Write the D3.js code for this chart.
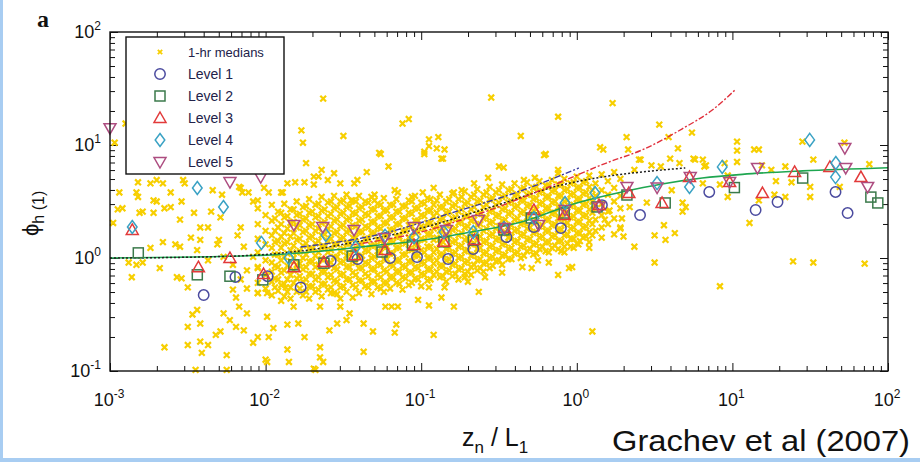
<!DOCTYPE html>
<html>
<head>
<meta charset="utf-8">
<script src="https://cdn.jsdelivr.net/npm/d3@7"></script>
<style>
  body { margin: 0; background: #fff; }
  svg { display: block; font-family: "Liberation Sans", Arial, sans-serif; }
</style>
</head>
<body>
<script>
// ---- values ----
var xTicks = [1e-3, 1e-2, 1e-1, 1, 1e1, 1e2];
var xExp = ["-3", "-2", "-1", "0", "1", "2"];
var yTicks = [1e-1, 1, 1e1, 1e2];
var yExp = ["-1", "0", "1", "2"];

var seriesNames = ["1-hr medians", "Level 1", "Level 2", "Level 3", "Level 4", "Level 5"];

// level medians, [z/L, phi]
var level1 = [[0.004,0.47],[0.0064,0.68],[0.0103,0.69],[0.0168,0.55],[0.0262,0.94],[0.039,0.98],[0.063,1.0],[0.094,1.02],[0.149,0.98],[0.216,1.2],[0.353,1.53],[0.53,1.88],[0.79,1.84],[1.45,2.94],[2.55,2.4],[7.1,3.84],[14.1,2.66],[19.5,3.13],[46,3.84],[55,2.5]];
var level2 = [[0.00152,1.11],[0.00364,0.71],[0.0059,0.69],[0.0096,0.64],[0.0152,0.87],[0.0237,0.9],[0.036,1.04],[0.056,1.13],[0.088,1.3],[0.14,1.39],[0.216,1.44],[0.34,1.77],[0.51,2.26],[0.83,2.5],[1.35,2.83],[2.1,3.61],[3.7,3.07],[10.3,4.2],[28.3,5.1],[77.6,3.46],[86,3.07]];
var level3 = [[0.00139,1.77],[0.0037,0.83],[0.0059,1.0],[0.0097,0.72],[0.0152,0.83],[0.0237,0.92],[0.0375,1.06],[0.0586,1.18],[0.09,1.3],[0.14,1.39],[0.22,1.44],[0.343,1.84],[0.53,2.66],[0.83,2.4],[1.39,2.94],[2.16,3.76],[3.53,3.07],[5.3,5.2],[9.6,4.7],[15.6,3.76],[25.1,5.77],[42.3,6.4],[67,5.2]];
var level4 = [[0.00139,1.88],[0.00364,4.16],[0.00536,2.83],[0.0094,1.36],[0.0141,1.0],[0.0244,1.6],[0.038,1.25],[0.0586,1.57],[0.09,1.53],[0.14,1.7],[0.216,1.7],[0.34,1.84],[0.53,2.26],[0.84,3.07],[1.31,3.76],[3.28,4.6],[5.3,4.25],[8.6,6.4],[31.4,11.1],[46.2,6.93],[46,5.2]];
var level5 = [[0.001,14.1],[0.0059,4.7],[0.0093,5.2],[0.0152,1.96],[0.0233,1.88],[0.037,1.77],[0.058,1.5],[0.09,1.88],[0.145,1.77],[0.233,2.17],[0.343,1.84],[0.569,1.96],[0.84,2.66],[1.39,2.83],[2.1,4.25],[3.28,4.2],[5.36,5.2],[9.6,4.7],[14.5,6.26],[52.8,9.4],[53.5,6.26],[74,4.25]];

// fitted curves
var greenFit = [[0.001,1.0],[0.01,1.06],[0.0227,1.15],[0.0475,1.28],[0.1,1.43],[0.21,1.7],[0.44,2.08],[1.0,3.07],[1.95,3.84],[3.53,4.52],[6.4,5.1],[11.6,5.5],[28.3,5.9],[100,6.3]];
var blackFit = [[0.001,1.0],[0.0038,1.02],[0.0108,1.085],[0.0227,1.22],[0.0353,1.36],[0.1,1.84],[0.283,2.83],[0.8,4.43],[1.45,5.2],[2.62,5.77],[4.98,6.26]];
var navyFit = [[0.0168,1.25],[0.0552,1.63],[0.156,2.5],[0.49,4.16],[1.03,6.26]];
var redFit = [[0.0353,1.3],[0.1,1.7],[0.244,2.5],[0.66,4.25],[1.61,7.07],[2.62,9.03],[4.76,13.9],[7.43,20.4],[10.4,30.7]];

// 1-hr medians, scattered ones as [log10 z/L, log10 phi]
var mediansLog = [
[-2.97,1.02],[-2.90,1.19],[-2.98,0.31],[-2.95,0.43],[-2.94,0.58],[-2.92,0.44],[-2.81,0.40],[-2.82,0.67],[-2.74,0.66],[-2.70,0.69],[-2.66,0.66],[-2.83,0.58],[-2.72,0.51],[-2.61,0.58],[-2.65,0.44],[-2.53,0.69],[-2.55,0.34],[-2.48,0.18],[-2.66,0.14],[-2.58,0.12],[-2.74,0.09],[-2.83,-0.06],[-2.79,-0.04],[-2.88,-0.04],[-2.86,-0.17],
[-2.34,0.60],[-2.16,0.62],[-2.11,0.58],[-2.01,0.62],[-1.86,0.66],[-1.81,0.67],[-1.75,0.67],[-1.69,0.65],[-1.77,1.13],[-1.76,1.02],[-1.74,0.84],[-1.63,1.41],[-1.50,1.08],[-1.26,0.92],[-1.12,1.19],[-1.08,1.23],[-0.95,1.05],[-0.89,1.07],[-0.95,0.99],[-0.90,0.97],[-0.85,0.96],[-0.98,0.92],[-0.87,0.88],
[-0.55,1.42],[-0.36,1.08],[-0.12,1.25],[-0.20,0.92],[0.23,1.37],[0.15,0.98],[0.17,0.96],[0.32,1.07],[0.33,0.96],[0.53,1.18],[0.59,1.07],[0.65,0.97],[0.40,0.87],[0.60,0.88],[0.74,1.11],[0.75,0.88],[0.81,0.87],[0.82,0.81],[0.95,0.84],[1.03,1.03],[1.03,0.95],[1.03,0.85],[1.14,0.96],[1.17,0.96],[1.19,0.82],[1.25,0.78],[1.34,0.81],[1.45,1.03],[1.52,0.87],[1.72,1.02],[1.88,0.83],[1.28,0.68],[1.38,0.67],[1.50,0.63],[1.50,0.54],[1.69,0.63],[1.34,0.54],[1.27,0.56],[1.17,0.51],[1.11,0.31],[0.97,0.54],[0.92,0.65],[0.56,0.29],[0.50,0.20],[0.63,0.22],[0.68,0.41],[0.70,0.45],[0.50,-0.04],[0.92,-0.25],[1.39,-0.03],[1.52,-0.04],[1.85,-0.05],[0.45,0.49],[0.61,0.60],[0.81,0.66],[0.97,0.73],[0.41,0.87],[0.66,0.84],[0.48,0.82],[0.54,0.81],[0.76,0.87],[0.83,0.82],[0.68,0.49],[0.57,0.16],[0.37,0.10],[0.30,0.19],[0.28,0.26],[0.29,0.35],[0.34,0.45],[0.21,0.42],[0.18,0.34],[0.01,0.12],[0.08,0.09],[-0.08,0.05],[-0.05,-0.09],[0.10,-0.65],[0.37,0.78],
[-1.64,0.78],[-1.60,0.69],[-1.69,0.72],[-1.56,0.75],[-1.52,0.66],[-1.35,0.76],[-1.41,0.69],[-1.27,0.93],[-1.21,0.81],[-1.17,0.60],[-1.30,0.51],[-1.45,0.51],
[-1.89,0.58],[-1.98,0.58],[-2.08,0.50],[-2.15,0.58],[-2.17,0.63],[-2.28,0.56],[-2.52,0.66],[-2.70,0.50],[-2.72,0.40],[-2.79,0.41],[-2.82,0.54],[-2.54,0.50],[-2.46,0.40],[-2.42,0.27],[-2.61,0.45],[-2.35,0.41],[-2.29,0.36],[-2.37,0.27],[-2.42,0.16],[-2.30,0.16],[-2.55,0.10],[-2.68,-0.09],[-2.57,-0.17],[-2.50,-0.26],[-2.54,-0.18],[-2.44,0.07],[-2.37,-0.02],[-2.31,0.12],[-2.27,0.01],[-2.18,0.20],[-2.16,0.27],[-2.14,0.10],[-2.12,-0.11],[-2.21,-0.28],[-2.19,-0.35],[-2.17,-0.43],[-2.12,-0.49],[-2.27,-0.49],[-2.23,-0.55],[-2.19,-0.61],[-2.29,-0.65],[-2.32,-0.68],[-2.37,-0.77],[-2.42,-0.74],[-2.50,-0.77],[-2.65,-0.79],[-2.44,-0.46],[-2.47,-0.50],[-2.50,-0.61],[-2.42,-0.58],[-2.41,-0.84],[-2.25,-0.86],[-2.45,-0.99],[-2.25,-0.99],[-2.00,-0.90],[-2.08,-0.75],[-2.14,-0.64],[-2.05,-0.70],[-1.99,-0.52],[-1.95,-0.62],[-1.98,-0.70],[-1.86,-0.81],[-1.86,-0.59],[-1.79,-0.58],[-1.75,-0.70],[-1.65,-0.79],[-1.65,-0.88],[-1.69,-0.98],[-1.59,-0.64],[-1.54,-0.58],[-1.48,-0.55],[-1.37,-0.58],[-1.31,-0.65],[-1.37,-0.83],[-1.46,-0.49],[-1.19,-0.43],[-1.16,-0.59],[-1.17,-0.66],[-1.52,-0.43],[-1.58,-0.31],[-1.65,-0.43],[-1.82,-0.43],[-1.90,-0.38],[-1.87,-0.26],[-1.99,-0.31],[-2.05,-0.31],[-2.12,-0.27],[-2.16,-0.19],[-2.21,-0.06],[-2.08,0.01],[-2.05,-0.08],
[-1.99,-0.92],[-1.85,-0.92],[-1.68,-0.99],[-1.63,-0.92],
[-1.15,-0.43],[-1.23,-0.43],[-1.02,-0.37],[-0.95,-0.42],[-0.92,-0.68],[-0.95,-0.26],[-0.87,-0.35],[-0.79,-0.43],[-0.72,-0.17],[-0.63,-0.30],[-0.35,-0.08],[-0.12,-0.15],[-0.25,-0.02],[-0.29,-0.09],[-0.18,-0.04],[-0.48,-0.13],[-0.59,-0.17],[-0.70,-0.21],[-0.85,-0.26],[-0.03,-0.08],
[-1.66,0.72],[-1.43,0.66],[-1.90,0.58],[-2.05,0.51],[-1.15,0.58],[-1.30,0.56],[-0.50,0.81],[-0.66,0.66],[-0.57,0.71],[-0.79,0.58],[-0.74,0.60],[-0.92,0.62],[-0.99,0.58],[-1.06,0.54],[-0.34,0.69],[-0.27,0.71],[-0.12,0.78],[-0.98,0.94],[-0.86,0.88],[-0.47,0.80],[-0.21,0.91],[-0.12,0.75]
];

// dense part of the 1-hr median cloud: log10 z/L column, log10 phi values in it
var cloudColumns = [
[-2.05,[.44,.30,.17,.05,-.09,-.22,-.31]],
[-2.00,[.38,.24,.12,-.02,-.15,-.27]],
[-1.96,[.47,.33,.20,.09,-.04,-.12,-.21,-.33]],
[-1.92,[.41,.27,.15,.03,-.08,-.19,-.29]],
[-1.88,[.48,.36,.22,.13,.01,-.11,-.23,-.34]],
[-1.84,[.43,.31,.19,.07,-.03,-.15,-.26,-.36]],
[-1.80,[.50,.38,.27,.16,.05,-.06,-.18,-.30]],
[-1.76,[.45,.34,.23,.11,.00,-.10,-.21,-.33]],
[-1.72,[.52,.40,.29,.18,.08,-.03,-.14,-.25,-.36]],
[-1.68,[.47,.36,.24,.13,.02,-.08,-.19,-.30]],
[-1.64,[.54,.42,.31,.20,.10,-.01,-.12,-.23,-.34]],
[-1.60,[.49,.37,.26,.15,.05,-.06,-.17,-.28]],
[-1.56,[.55,.44,.33,.22,.12,.01,-.09,-.20,-.31]],
[-1.52,[.50,.39,.28,.17,.06,-.04,-.15,-.26,-.36]],
[-1.48,[.56,.45,.34,.23,.13,.02,-.08,-.19,-.30]],
[-1.44,[.51,.40,.29,.18,.08,-.03,-.13,-.24,-.35]],
[-1.40,[.55,.44,.33,.23,.12,.01,-.09,-.20,-.31]],
[-1.36,[.50,.39,.28,.17,.07,-.04,-.14,-.25]],
[-1.32,[.54,.43,.32,.22,.11,.00,-.10,-.21,-.32]],
[-1.28,[.48,.37,.27,.16,.06,-.05,-.15,-.26]],
[-1.24,[.53,.42,.31,.20,.10,-.01,-.11,-.22,-.30]],
[-1.20,[.47,.36,.25,.15,.04,-.06,-.17,-.27]],
[-1.16,[.52,.41,.30,.19,.09,-.02,-.12,-.22]],
[-1.12,[.46,.35,.24,.14,.03,-.07,-.17,-.28]],
[-1.08,[.51,.40,.29,.18,.08,-.03,-.13,-.24]],
[-1.04,[.55,.44,.33,.23,.12,.02,-.08,-.18]],
[-1.00,[.49,.38,.28,.17,.07,-.04,-.14,-.25]],
[-0.96,[.53,.42,.31,.21,.10,.00,-.10,-.20]],
[-0.92,[.47,.37,.26,.16,.05,-.05,-.15]],
[-0.88,[.56,.45,.34,.24,.13,.03,-.07,-.17]],
[-0.84,[.50,.40,.29,.19,.08,-.02,-.12,-.21]],
[-0.80,[.57,.46,.35,.25,.14,.04,-.06,-.16]],
[-0.76,[.52,.41,.31,.20,.10,.00,-.10,-.19]],
[-0.72,[.59,.48,.37,.27,.16,.06,-.04,-.14]],
[-0.68,[.54,.43,.33,.22,.12,.02,-.08,-.15]],
[-0.64,[.61,.50,.39,.29,.18,.08,-.02,-.11]],
[-0.60,[.56,.45,.35,.24,.14,.04,-.05,-.12]],
[-0.56,[.63,.52,.41,.31,.20,.10,.00,-.09]],
[-0.52,[.58,.47,.37,.26,.16,.06,-.03]],
[-0.48,[.65,.54,.43,.33,.22,.12,.02,-.06]],
[-0.44,[.60,.49,.39,.28,.18,.08,-.01]],
[-0.40,[.66,.55,.45,.34,.24,.14,.04]],
[-0.36,[.61,.51,.40,.30,.20,.10,.00]],
[-0.32,[.67,.56,.46,.36,.26,.16,.06]],
[-0.28,[.62,.52,.42,.32,.22,.12,.03]],
[-0.24,[.68,.58,.48,.38,.28,.18,.08]],
[-0.20,[.64,.54,.44,.34,.24,.14,.06]],
[-0.16,[.69,.59,.49,.39,.29,.19,.09]],
[-0.12,[.65,.55,.45,.35,.25,.15,.08]],
[-0.08,[.70,.60,.50,.40,.30,.20,.10]],
[-0.04,[.66,.56,.46,.36,.26,.17,.10]],
[0.00,[.72,.62,.52,.42,.32,.22,.13]],
[0.04,[.67,.57,.47,.37,.27,.18]],
[0.08,[.73,.63,.53,.43,.33,.23,.14]],
[0.12,[.66,.55,.44,.34,.24]],
[0.16,[.74,.60,.48,.38,.27,.18]],
[0.20,[.68,.56,.41,.30]],
[0.24,[.76,.62,.50,.35,.21]],
[0.28,[.70,.55,.44,.27]]
];

// the solid centre of the cloud, between the columns above
var cloudCore = [
[-1.94,[.35,.24,.14,.03,-.07,-.18,-.26]],
[-1.90,[.40,.30,.19,.09,-.02,-.13,-.24]],
[-1.86,[.37,.26,.14,.04,-.07,-.19,-.30]],
[-1.82,[.43,.32,.22,.11,.00,-.11,-.22]],
[-1.78,[.39,.29,.17,.06,-.05,-.16,-.27]],
[-1.74,[.46,.35,.24,.13,.03,-.08,-.19,-.30]],
[-1.70,[.41,.30,.19,.08,-.03,-.14,-.25]],
[-1.66,[.48,.37,.26,.15,.05,-.06,-.17,-.28]],
[-1.62,[.43,.32,.21,.10,-.01,-.12,-.23]],
[-1.58,[.50,.39,.28,.17,.07,-.04,-.15,-.26]],
[-1.54,[.45,.34,.23,.12,.01,-.10,-.21,-.32]],
[-1.50,[.51,.40,.29,.18,.08,-.03,-.14,-.25]],
[-1.46,[.46,.35,.24,.13,.03,-.08,-.19]],
[-1.42,[.50,.39,.28,.18,.07,-.04,-.15,-.26]],
[-1.38,[.45,.34,.23,.12,.02,-.09,-.20]],
[-1.34,[.49,.38,.27,.17,.06,-.05,-.16,-.26]],
[-1.30,[.43,.32,.22,.11,.01,-.10,-.21]],
[-1.26,[.47,.37,.26,.15,.05,-.06,-.17,-.27]],
[-1.22,[.42,.31,.20,.10,-.01,-.12,-.22]],
[-1.18,[.47,.36,.25,.14,.04,-.07,-.17]],
[-1.14,[.41,.30,.19,.09,-.02,-.12,-.23]],
[-1.10,[.46,.35,.24,.13,.03,-.08,-.18]],
[-1.06,[.50,.39,.28,.18,.07,-.03,-.13,-.22]],
[-1.02,[.44,.33,.23,.12,.02,-.09,-.19]],
[-0.98,[.48,.37,.26,.16,.05,-.05,-.15]],
[-0.94,[.52,.42,.31,.21,.10,.00,-.10,-.19]],
[-0.90,[.51,.40,.29,.18,.08,-.02,-.12]],
[-0.86,[.45,.35,.24,.14,.03,-.07,-.16]],
[-0.82,[.52,.41,.30,.20,.09,-.01,-.11]],
[-0.78,[.47,.36,.26,.15,.05,-.05,-.14]],
[-0.74,[.54,.43,.32,.22,.11,.01,-.09]],
[-0.70,[.49,.38,.28,.17,.07,-.03,-.12]],
[-0.66,[.56,.45,.34,.24,.13,.03,-.06]],
[-0.62,[.51,.40,.30,.19,.09,-.01,-.09]],
[-0.58,[.58,.47,.36,.26,.15,.05,-.04]],
[-0.54,[.53,.42,.32,.21,.11,.01,-.07]],
[-0.50,[.60,.49,.38,.28,.17,.07,-.02]],
[-0.46,[.55,.44,.34,.23,.13,.03]],
[-0.42,[.61,.50,.40,.29,.19,.09,-.01]],
[-0.38,[.56,.46,.35,.25,.15,.05]],
[-0.34,[.62,.51,.41,.31,.21,.11,.02]],
[-0.30,[.57,.47,.37,.27,.17,.08]],
[-0.26,[.63,.53,.43,.33,.23,.13,.04]],
[-0.22,[.59,.49,.39,.29,.19,.10]],
[-0.18,[.64,.54,.44,.34,.24,.14,.05]],
[-0.14,[.60,.50,.40,.30,.20,.11]],
[-0.10,[.65,.55,.45,.35,.25,.15,.06]],
[-0.06,[.61,.51,.41,.31,.21,.13]],
[-0.02,[.67,.57,.47,.37,.27,.17,.09]],
[0.02,[.62,.52,.42,.32,.22,.15]],
[0.06,[.68,.58,.48,.38,.28,.19]],
[0.10,[.60,.50,.40,.30,.20]]
];

// ---- layout ----
var W = 920, H = 462;
var plotLeft = 110, plotRight = 888, plotTop = 32, plotBottom = 371;

var colors = {
  median: "#f7cf00",
  l1: "#4b4b9f",
  l2: "#3b7a4b",
  l3: "#e23a3a",
  l4: "#3aa2c4",
  l5: "#ad4d80"
};

var svg = d3.select("body").append("svg")
  .attr("width", W)
  .attr("height", H);

svg.append("rect").attr("width", W).attr("height", H).attr("fill", "#fff");
// light blue slide frame on the left and bottom edges
svg.append("rect").attr("x", 0).attr("y", 0).attr("width", 3).attr("height", H).attr("fill", "#a8cdf2");
svg.append("rect").attr("x", 0).attr("y", H - 4).attr("width", W).attr("height", 4).attr("fill", "#a8cdf2");

var x = d3.scaleLog().domain([1e-3, 1e2]).range([plotLeft, plotRight]);
var y = d3.scaleLog().domain([1e-1, 1e2]).range([plotBottom, plotTop]);

// minor ticks 2..9 in every decade
var minorX = [], minorY = [];
xTicks.slice(0, -1).forEach(function(d) { for (var k = 2; k < 10; k++) minorX.push(k * d); });
yTicks.slice(0, -1).forEach(function(d) { for (var k = 2; k < 10; k++) minorY.push(k * d); });

function tickSet(axisFn, scale, values, len, transform) {
  svg.append("g")
    .attr("transform", transform)
    .call(axisFn(scale).tickValues(values).tickSize(-len).tickFormat(""))
    .call(function(g) { g.select(".domain").remove(); })
    .selectAll("line").attr("stroke", "#111").attr("stroke-width", 1);
}
tickSet(d3.axisBottom, x, xTicks, 8, "translate(0," + plotBottom + ")");
tickSet(d3.axisBottom, x, minorX, 5, "translate(0," + plotBottom + ")");
tickSet(d3.axisTop, x, xTicks, 8, "translate(0," + plotTop + ")");
tickSet(d3.axisTop, x, minorX, 5, "translate(0," + plotTop + ")");
tickSet(d3.axisLeft, y, yTicks, 8, "translate(" + plotLeft + ",0)");
tickSet(d3.axisLeft, y, minorY, 5, "translate(" + plotLeft + ",0)");
tickSet(d3.axisRight, y, yTicks, 8, "translate(" + plotRight + ",0)");
tickSet(d3.axisRight, y, minorY, 5, "translate(" + plotRight + ",0)");

// tick labels 10^n
xTicks.forEach(function(v, i) {
  var t = svg.append("text")
    .attr("x", x(v) - 1)
    .attr("y", 406)
    .attr("text-anchor", "middle")
    .attr("font-size", 18)
    .attr("fill", "#111");
  t.append("tspan").text("10");
  t.append("tspan").attr("dy", -8).attr("font-size", 12).text(xExp[i]);
});
yTicks.forEach(function(v, i) {
  var t = svg.append("text")
    .attr("x", 101)
    .attr("y", y(v) + 6)
    .attr("text-anchor", "end")
    .attr("font-size", 18)
    .attr("fill", "#111");
  t.append("tspan").text("10");
  t.append("tspan").attr("dy", -8).attr("font-size", 12).text(yExp[i]);
});

// 1-hr medians
var medians = mediansLog.slice();
cloudColumns.concat(cloudCore).forEach(function(c) {
  c[1].forEach(function(v) { medians.push([c[0], v]); });
});

var crossPath = "M-2.9,-2.9L2.9,2.9M-2.9,2.9L2.9,-2.9";
svg.append("g").selectAll("path")
  .data(medians)
  .enter()
  .append("path")
  .attr("transform", function(d) {
    return "translate(" + x(Math.pow(10, d[0])) + "," + y(Math.pow(10, d[1])) + ")";
  })
  .attr("d", crossPath)
  .attr("stroke", colors.median)
  .attr("stroke-width", 2.2)
  .attr("fill", "none");

// fitted curves
var line = d3.line()
  .x(function(d) { return x(d[0]); })
  .y(function(d) { return y(d[1]); })
  .curve(d3.curveMonotoneX);

svg.append("path").datum(greenFit).attr("d", line)
  .attr("fill", "none").attr("stroke", "#1ea650").attr("stroke-width", 1.6);
svg.append("path").datum(blackFit).attr("d", line)
  .attr("fill", "none").attr("stroke", "#222").attr("stroke-width", 1.5).attr("stroke-dasharray", "2,2");
svg.append("path").datum(navyFit).attr("d", line)
  .attr("fill", "none").attr("stroke", "#3c3ca0").attr("stroke-width", 1.4).attr("stroke-dasharray", "6,2,2,2");
svg.append("path").datum(redFit).attr("d", line)
  .attr("fill", "none").attr("stroke", "#e0303c").attr("stroke-width", 1.4).attr("stroke-dasharray", "6,2,2,2");

// marker shapes
var shapes = {
  circle: function(g) { g.append("circle").attr("r", 5.2); },
  square: function(g) { g.append("rect").attr("x", -5).attr("y", -5).attr("width", 10).attr("height", 10); },
  up: function(g) { g.append("path").attr("d", "M0,-6L6,4.5L-6,4.5Z"); },
  diamond: function(g) { g.append("path").attr("d", "M0,-6.5L4.8,0L0,6.5L-4.8,0Z"); },
  down: function(g) { g.append("path").attr("d", "M0,6L6,-4.5L-6,-4.5Z"); }
};

function drawLevel(data, shape, color) {
  svg.append("g").selectAll("g")
    .data(data)
    .enter()
    .append("g")
    .attr("transform", function(d) { return "translate(" + x(d[0]) + "," + y(d[1]) + ")"; })
    .each(function() { shapes[shape](d3.select(this)); })
    .selectAll("*")
    .attr("fill", "none")
    .attr("stroke", color)
    .attr("stroke-width", 1.5);
}
drawLevel(level1, "circle", colors.l1);
drawLevel(level2, "square", colors.l2);
drawLevel(level3, "up", colors.l3);
drawLevel(level4, "diamond", colors.l4);
drawLevel(level5, "down", colors.l5);

// plot frame
svg.append("rect")
  .attr("x", plotLeft).attr("y", plotTop)
  .attr("width", plotRight - plotLeft).attr("height", plotBottom - plotTop)
  .attr("fill", "none").attr("stroke", "#111").attr("stroke-width", 1.4);

// legend
var legend = svg.append("g");
legend.append("rect")
  .attr("x", 126).attr("y", 37).attr("width", 158).attr("height", 137)
  .attr("fill", "#fff").attr("stroke", "#111").attr("stroke-width", 1.4);
var legendShapes = ["cross", "circle", "square", "up", "diamond", "down"];
var legendColors = [colors.median, colors.l1, colors.l2, colors.l3, colors.l4, colors.l5];
var legendRows = [52, 74, 96, 118, 140, 162];
seriesNames.forEach(function(name, i) {
  var g = legend.append("g").attr("transform", "translate(160," + legendRows[i] + ")");
  if (legendShapes[i] == "cross") {
    g.append("path").attr("d", "M-2.2,-2.2L2.2,2.2M-2.2,2.2L2.2,-2.2")
      .attr("stroke", legendColors[i]).attr("stroke-width", 1.8);
  } else {
    shapes[legendShapes[i]](g);
    g.selectAll("*").attr("fill", "none").attr("stroke", legendColors[i]).attr("stroke-width", 1.5);
  }
  legend.append("text")
    .attr("x", 188)
    .attr("y", legendRows[i] + 5)
    .attr("font-size", i == 0 ? 13 : 14)
    .attr("fill", "#22224a")
    .text(name);
});

// panel letter
svg.append("text")
  .attr("x", 37).attr("y", 27)
  .attr("font-family", "'Liberation Serif', 'DejaVu Serif', serif")
  .attr("font-weight", "bold")
  .attr("font-size", 24)
  .attr("fill", "#111")
  .text("a");

// y axis title
var yt = svg.append("text")
  .attr("transform", "translate(38,236) rotate(-90)")
  .attr("font-size", 22)
  .attr("fill", "#111");
yt.append("tspan").text("\u03d5");
yt.append("tspan").attr("dy", 6).attr("font-size", 16).text("h (1)");

// x axis title
var xt = svg.append("text")
  .attr("x", 462).attr("y", 446)
  .attr("font-size", 25)
  .attr("fill", "#111");
xt.append("tspan").text("z");
xt.append("tspan").attr("dy", 7).attr("font-size", 17).text("n");
xt.append("tspan").attr("dy", -7).text(" / L");
xt.append("tspan").attr("dy", 7).attr("font-size", 17).text("1");

// citation
svg.append("text")
  .attr("x", 612).attr("y", 451)
  .attr("font-size", 29)
  .attr("textLength", 298)
  .attr("lengthAdjust", "spacingAndGlyphs")
  .attr("fill", "#111")
  .text("Grachev et al (2007)");
</script>
</body>
</html>
